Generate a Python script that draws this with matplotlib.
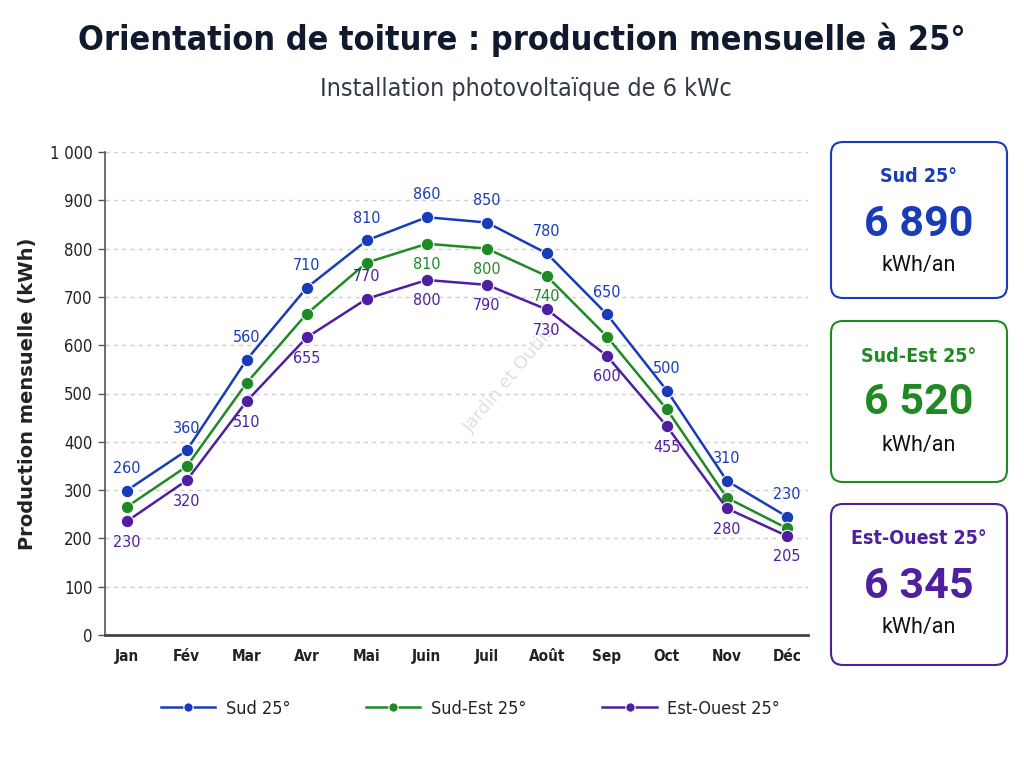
import matplotlib
matplotlib.use('Agg')
import matplotlib.pyplot as plt
from matplotlib.patches import FancyBboxPatch

months = ['Jan', 'Fév', 'Mar', 'Avr', 'Mai', 'Juin', 'Juil', 'Août', 'Sep', 'Oct', 'Nov', 'Déc']
sud = [299, 382, 570, 719, 817, 865, 854, 790, 664, 506, 319, 245]
sud_est = [265, 349, 522, 665, 771, 810, 800, 743, 618, 467, 284, 221]
est_ouest = [235, 320, 484, 616, 696, 735, 725, 674, 578, 432, 262, 205]

sud_labels = [260, 360, 560, 710, 810, 860, 850, 780, 650, 500, 310, 230]
sud_est_labels = [None, None, None, None, None, 810, 800, 740, None, None, None, None]
est_ouest_labels = [230, 320, 510, 655, 770, 800, 790, 730, 600, 455, 280, 205]
est_ouest_above = [False, False, False, False, True, False, False, False, False, False, False, False]

series_names = ['Sud 25°', 'Sud-Est 25°', 'Est-Ouest 25°']
annual_totals = ['6 890', '6 520', '6 345']
yticks = [0, 100, 200, 300, 400, 500, 600, 700, 800, 900, 1000]
ytick_labels = ['0', '100', '200', '300', '400', '500', '600', '700', '800', '900', '1 000']

C_SUD = '#1a3bb8'
C_SE = '#1f8a24'
C_EO = '#4e1f9e'
colors = [C_SUD, C_SE, C_EO]
COND = dict(family='DejaVu Sans', stretch='condensed')

W, H = 1024, 768
fig = plt.figure(figsize=(W / 100, H / 100), dpi=100)

ax = fig.add_axes([105 / W, 1 - 635 / H, (808 - 105) / W, (635 - 152) / H])
x = list(range(len(months)))
for vals, c, name in zip([sud, sud_est, est_ouest], colors, series_names):
    ax.plot(x, vals, color=c, lw=1.8, marker='o', ms=9, mec='white', mew=0.8,
            label=name, clip_on=False, zorder=3)

OFF = 16
for i, (v, lab) in enumerate(zip(sud, sud_labels)):
    ax.annotate(str(lab), (i, v), xytext=(0, OFF), textcoords='offset points',
                ha='center', va='center', color=C_SUD, fontsize=11.5, **COND)
for i, (v, lab) in enumerate(zip(sud_est, sud_est_labels)):
    if lab is not None:
        ax.annotate(str(lab), (i, v), xytext=(0, -OFF + 1), textcoords='offset points',
                    ha='center', va='center', color=C_SE, fontsize=11.5, **COND)
for i, (v, lab, up) in enumerate(zip(est_ouest, est_ouest_labels, est_ouest_above)):
    ax.annotate(str(lab), (i, v), xytext=(0, OFF if up else -OFF + 1), textcoords='offset points',
                ha='center', va='center', color=C_EO, fontsize=11.5, **COND)

ax.set_xlim(-0.36, 11.35)
ax.set_ylim(0, 1000)
ax.set_yticks(yticks)
ax.set_yticklabels(ytick_labels, fontsize=12, color='#222222', **COND)
ax.set_xticks(x)
ax.set_xticklabels(months, fontsize=11, fontweight='bold', color='#222222', **COND)
ax.tick_params(axis='x', length=0, pad=10)
ax.tick_params(axis='y', length=5, width=1, color='#555555', pad=4)
for s in ['top', 'right']:
    ax.spines[s].set_visible(False)
ax.spines['left'].set_color('#555555')
ax.spines['left'].set_linewidth(1.2)
ax.spines['bottom'].set_color('#444444')
ax.spines['bottom'].set_linewidth(2)
ax.yaxis.grid(True, color='#cfcfcf', ls=(0, (3, 3)), lw=1)
ax.set_axisbelow(True)
ax.set_ylabel('Production mensuelle (kWh)', fontsize=14, fontweight='bold', color='#222222',
              labelpad=9)

ax.text(0.576, 0.53, 'Jardin et Outils', transform=ax.transAxes, rotation=50, fontsize=13,
        color='#e0e0e0', ha='center', va='center', zorder=1)

leg = ax.legend(loc='upper center', bbox_to_anchor=(0.52, -0.1), ncol=3, frameon=False,
                prop=dict(size=13, **COND), handlelength=3.0, columnspacing=4.2,
                handletextpad=0.6, markerscale=0.75, labelcolor='#222222')

# overlay in pixel coordinates
ov = fig.add_axes([0, 0, 1, 1])
ov.set_xlim(0, W)
ov.set_ylim(H, 0)
ov.axis('off')
ov.patch.set_alpha(0)

ov.text(522, 40, 'Orientation de toiture : production mensuelle à 25°', ha='center', va='center',
        fontsize=24.5, fontweight='bold', color='#0f1a2e', **COND)
ov.text(526, 89, 'Installation photovoltaïque de 6 kWc', ha='center', va='center',
        fontsize=18, color='#333a45', **COND)

boxes = [(142, 298), (321, 482), (504, 665)]
for (top, bot), c, name, tot in zip(boxes, colors, series_names, annual_totals):
    p = FancyBboxPatch((831, top), 176, bot - top, boxstyle='round,pad=0,rounding_size=12',
                       fc='white', ec=c, lw=1.5)
    ov.add_patch(p)
    cx = 919
    ov.text(cx, top + 35, name, ha='center', va='center', fontsize=14, fontweight='bold',
            color=c, **COND)
    ov.text(cx, top + 82, tot, ha='center', va='center', fontsize=31, fontweight='bold',
            color=c, family='Roboto')
    ov.text(cx, top + 124, 'kWh/an', ha='center', va='center', fontsize=15.5, color='#111111',
            family='Roboto')

fig.savefig('out.png', dpi=100, facecolor='white')
